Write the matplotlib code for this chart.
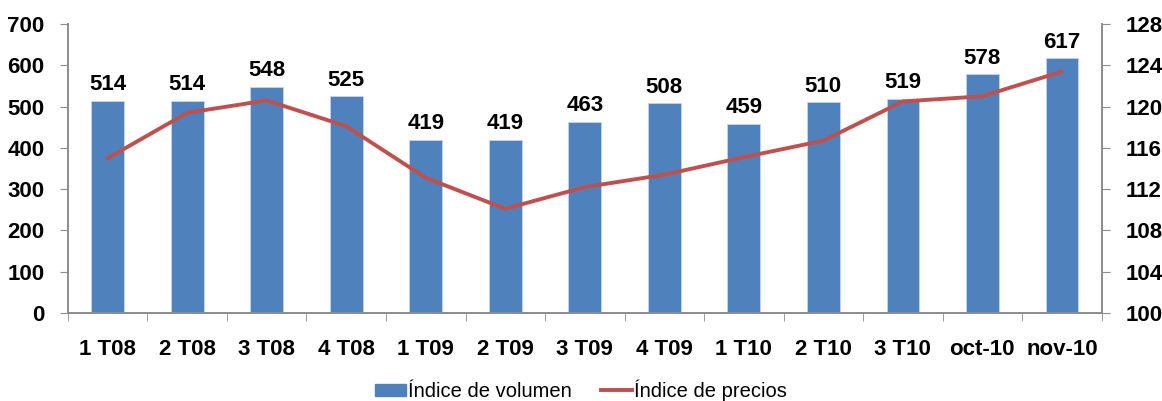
import matplotlib.pyplot as plt
import numpy as np
from matplotlib.lines import Line2D
from matplotlib.patches import Patch

plt.rcParams['font.family'] = ['Liberation Sans', 'DejaVu Sans']

categories = ["1 T08", "2 T08", "3 T08", "4 T08", "1 T09", "2 T09", "3 T09",
              "4 T09", "1 T10", "2 T10", "3 T10", "oct-10", "nov-10"]
volumen = [514, 514, 548, 525, 419, 419, 463, 508, 459, 510, 519, 578, 617]
precios = [115.0, 119.4, 120.6, 118.1, 113.1, 110.1, 112.2, 113.4, 115.1,
           116.7, 120.5, 121.0, 123.4]

blue = "#4F81BD"
red = "#C0504D"
grey = "#8C8C8C"

fig = plt.figure(figsize=(11.62, 4.01), dpi=100)
ax = fig.add_axes([0.0585, 0.2195, 0.8895, 0.7205])
ax2 = ax.twinx()

x = np.arange(len(categories))
ax.bar(x, volumen, width=0.41, color=blue, edgecolor="#C6D5EA", linewidth=0.6, zorder=2)
for xi, v in zip(x, volumen):
    ax.text(xi, v + 14, str(v), ha="center", va="bottom", fontsize=16, fontweight="bold")

ax2.plot(x, precios, color=red, linewidth=2.8, solid_capstyle="round", zorder=3)

ax.set_xlim(-0.5, len(categories) - 0.5)
ax.set_ylim(0, 700)
ax.set_yticks(range(0, 701, 100))
ax2.set_ylim(100, 128)
ax2.set_yticks(range(100, 129, 4))

ax.set_xticks(x)
ax.set_xticklabels(categories, fontsize=16, fontweight="bold")
ax.set_xticks(np.arange(-0.5, len(categories), 1), minor=True)
ax.tick_params(axis="x", which="major", length=0, pad=19)
ax.tick_params(axis="x", which="minor", length=6, color=grey, direction="out")
ax.tick_params(axis="y", length=6, color=grey, labelsize=16, pad=11)
ax2.tick_params(axis="y", length=6, color=grey, labelsize=16, pad=11)
for lab in ax.get_yticklabels() + ax2.get_yticklabels():
    lab.set_fontweight("bold")

for a in (ax, ax2):
    a.spines["top"].set_visible(False)
    a.spines["left"].set_color(grey)
    a.spines["right"].set_color(grey)
    a.spines["bottom"].set_color(grey)
    a.spines["left"].set_linewidth(1.2)
    a.spines["right"].set_linewidth(1.2)
    a.spines["bottom"].set_linewidth(1.2)

handles = [Patch(facecolor=blue, edgecolor=blue),
           Line2D([0], [0], color=red, linewidth=2.8)]
fig.legend(handles, ["Índice de volumen", "Índice de precios"],
           loc="center", bbox_to_anchor=(0.5, 0.027), ncol=2, frameon=False,
           fontsize=14.5, handlelength=1.55, handleheight=0.5,
           handletextpad=0.1, columnspacing=1.45)

fig.savefig("out.png", dpi=100)
